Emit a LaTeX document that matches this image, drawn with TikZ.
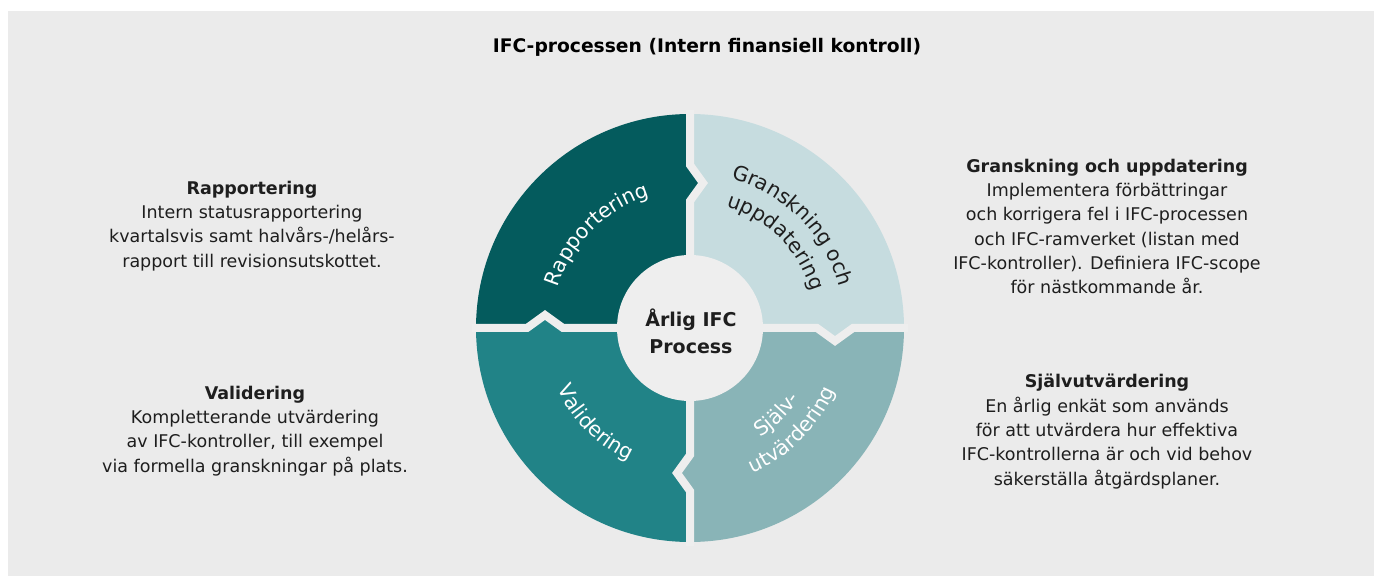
\documentclass[tikz,border=0pt]{standalone}
\usepackage{fontspec}
\setmainfont{DejaVu Sans}
\usetikzlibrary{decorations.text}
\definecolor{bgc}{HTML}{EBEBEB}
\definecolor{gapc}{HTML}{EEEEEE}
\definecolor{qrap}{HTML}{045B5D}
\definecolor{qgra}{HTML}{C6DCDF}
\definecolor{qsja}{HTML}{89B4B7}
\definecolor{qval}{HTML}{218387}
\definecolor{txt}{HTML}{1E1E1E}
\newcommand\wheelfont{\fontsize{20.5}{24}\selectfont}
\newcommand\bodyfont{\fontsize{17.5}{24.3}\selectfont}
\begin{document}
\begin{tikzpicture}[x=1pt,y=1pt,
  gapline/.style={draw=gapc, line width=8pt, line join=miter, miter limit=10},
  sidetext/.style={align=center, text=txt, font=\bodyfont, inner sep=0pt},
  wheeltext/.style={decorate, decoration={text along path, text align=center, text color=#1}},
  ]
\useasboundingbox (0,0) rectangle (1374,576);
\fill[bgc] (8,0) rectangle (1374,565);
\node[font=\bfseries\fontsize{18.7}{22}\selectfont, text=black, inner sep=0pt] (title) at (707,529) {IFC-processen (Intern finansiell kontroll)};

\node[sidetext] (rap) at (252,350) {{\bfseries Rapportering}\\Intern statusrapportering\\kvartalsvis samt halvårs-/helårs-\\rapport till revisionsutskottet.};
\node[sidetext] (val) at (255,145) {{\bfseries Validering}\\Kompletterande utvärdering\\av IFC-kontroller, till exempel\\via formella granskningar på plats.};
\node[sidetext] (gra) at (1107,349.5) {{\bfseries Granskning och uppdatering}\\Implementera förbättringar\\och korrigera fel i IFC-processen\\och IFC-ramverket (listan med\\IFC-kontroller). Definiera IFC-scope\\för nästkommande år.};
\node[sidetext] (sja) at (1107,144.5) {{\bfseries Självutvärdering}\\En årlig enkät som används\\för att utvärdera hur effektiva\\IFC-kontrollerna är och vid behov\\säkerställa åtgärdsplaner.};

\begin{scope}[shift={(690,248)}]
\coordinate (C) at (0,0);
% quadrants
\fill[qrap] (0,0) -- (0,127) -- (13,145) -- (0,163) -- (0,214) arc[start angle=90, end angle=180, radius=214] -- (-163,0) -- (-145,13) -- (-127,0) -- cycle;
\fill[qgra] (0,0) -- (0,127) -- (13,145) -- (0,163) -- (0,214) arc[start angle=90, end angle=0, radius=214] -- (163,0) -- (145,-13) -- (127,0) -- cycle;
\fill[qsja] (0,0) -- (127,0) -- (145,-13) -- (163,0) -- (214,0) arc[start angle=0, end angle=-90, radius=214] -- (0,-163) -- (-13,-145) -- (0,-127) -- cycle;
\fill[qval] (0,0) -- (0,-127) -- (-13,-145) -- (0,-163) -- (0,-214) arc[start angle=270, end angle=180, radius=214] -- (-163,0) -- (-145,13) -- (-127,0) -- cycle;
% gaps
\draw[gapline] (0,0) -- (0,127) -- (13,145) -- (0,163) -- (0,218);
\draw[gapline] (0,0) -- (127,0) -- (145,-13) -- (163,0) -- (218,0);
\draw[gapline] (0,0) -- (0,-127) -- (-13,-145) -- (0,-163) -- (0,-218);
\draw[gapline] (0,0) -- (-127,0) -- (-145,13) -- (-163,0) -- (-218,0);
% core
\fill[gapc] (0,0) circle[radius=73];
\node[align=center, font=\bfseries\fontsize{19}{27}\selectfont, text=txt, inner sep=0pt] (core) at (1,-3) {Årlig IFC\\Process};
% curved labels
\path[wheeltext=white, decoration={text={|\wheelfont|Rapportering}}] (180:138) arc[start angle=180, end angle=90, radius=138];
\path[wheeltext=txt, decoration={text={|\wheelfont|Granskning och}}] (90:155) arc[start angle=90, end angle=0, radius=155];
\path[wheeltext=txt, decoration={text={|\wheelfont|uppdatering}}] (90:127) arc[start angle=90, end angle=0, radius=127];
\path[wheeltext=white, decoration={text={|\wheelfont|Validering}}] (180:146) arc[start angle=180, end angle=270, radius=146];
\path[wheeltext=white, decoration={text={|\wheelfont|Själv-}}] (270:130) arc[start angle=270, end angle=360, radius=130];
\path[wheeltext=white, decoration={text={|\wheelfont|utvärdering}}] (270:158) arc[start angle=270, end angle=360, radius=158];
\end{scope}
\end{tikzpicture}
\end{document}
